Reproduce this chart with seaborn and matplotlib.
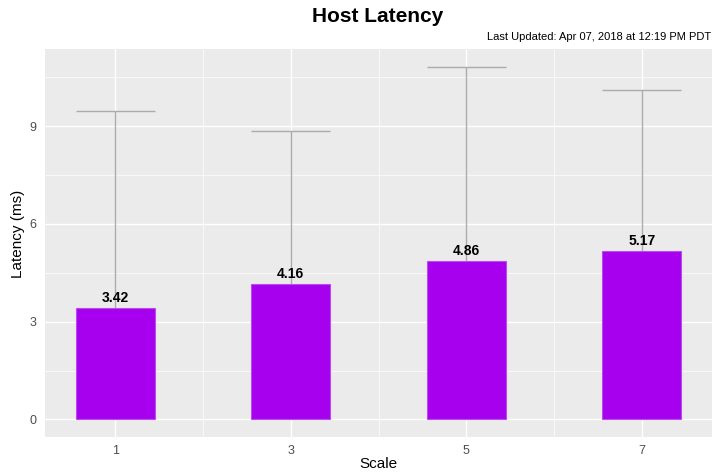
import matplotlib
matplotlib.use("Agg")
import matplotlib.pyplot as plt
import seaborn as sns
import pandas as pd
from matplotlib.ticker import MultipleLocator

scale = [1, 3, 5, 7]
latency = [3.42, 4.16, 4.86, 5.17]
upper = [9.47, 8.85, 10.83, 10.12]
labels = ["3.42", "4.16", "4.86", "5.17"]

sns.set_theme(style="darkgrid")
plt.rcParams['font.family'] = ['Liberation Sans', 'DejaVu Sans']

df = pd.DataFrame({"Scale": scale, "Latency": latency})

fig = plt.figure(figsize=(7.12, 4.73), dpi=100)
ax = fig.add_axes([45/712, 1 - 437/473, 1 - 45/712, (437 - 49)/473])
ax.set_facecolor("#EBEBEB")

# error bars (behind bars)
half = 0.45
ax.vlines(scale, latency, upper, color="#ABABAB", lw=1.0, zorder=2)
ax.hlines(upper, [s - half for s in scale], [s + half for s in scale], color="#ABABAB", lw=1.0, zorder=2)

sns.barplot(data=df, x="Scale", y="Latency", native_scale=True, width=0.45,
            color="#A600EE", saturation=1, edgecolor="#B84DEB", linewidth=0.8,
            ax=ax, zorder=3)

for s, v, t in zip(scale, latency, labels):
    ax.text(s, v + 0.1, t, ha="center", va="bottom", fontsize=10, fontweight="bold",
            color="black", zorder=4)

ax.set_xlim(0.2, 7.8)
ax.set_ylim(-0.54, 11.37)
ax.set_xticks(scale)
ax.set_xticklabels([str(s) for s in scale])
ax.set_yticks([0, 3, 6, 9])
ax.xaxis.set_minor_locator(MultipleLocator(1))
ax.yaxis.set_minor_locator(MultipleLocator(1.5))
ax.grid(which="major", color="white", lw=1.0)
ax.grid(which="minor", color="white", lw=0.5)
ax.set_axisbelow(True)
for sp in ax.spines.values():
    sp.set_visible(False)
ax.tick_params(axis="both", which="major", length=3, width=0.8, color="#333333",
               labelsize=9, labelcolor="#4D4D4D", pad=3)
ax.tick_params(axis="both", which="minor", length=0)

ax.set_xlabel("")
ax.set_ylabel("")
fig.text(18/712, 1 - 234/473, "Latency (ms)", ha="center", va="center", rotation=90,
         fontsize=11, color="black")
fig.text(378/712, 1 - 464/473, "Scale", ha="center", va="center", fontsize=11, color="black")

fig.text(378/712, 1 - 17/473, "Host Latency", ha="center", va="center",
         fontsize=15, fontweight="bold", color="black")
fig.text(711/712, 1 - 37/473, "Last Updated: Apr 07, 2018 at 12:19 PM PDT",
         ha="right", va="center", fontsize=8, color="black")

fig.savefig("out.png", dpi=100)
